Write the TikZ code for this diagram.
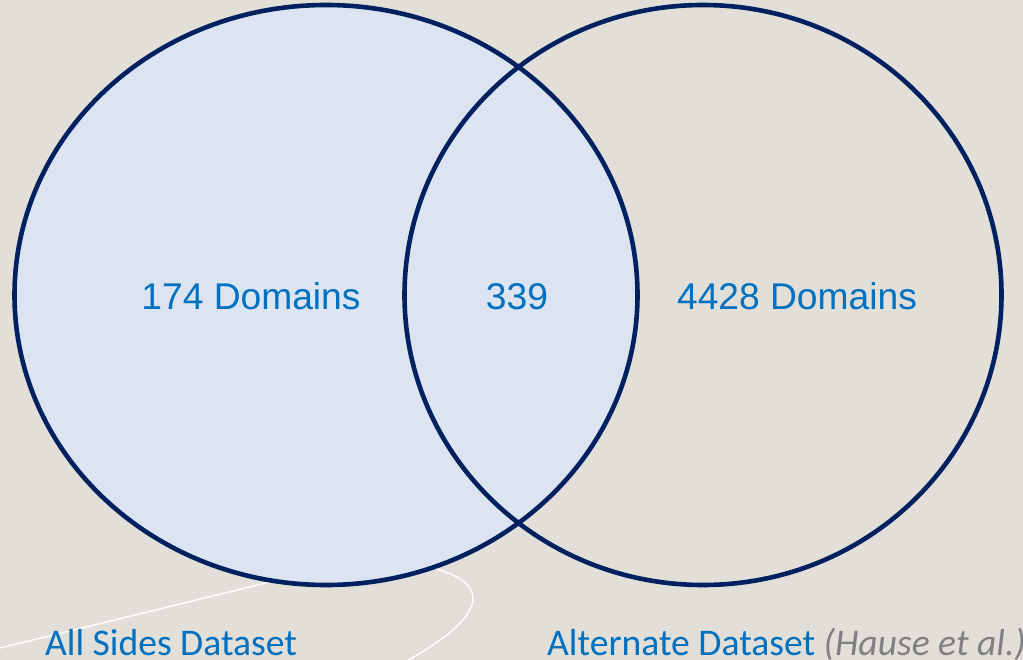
\documentclass[tikz,border=0pt]{standalone}
\usepackage{fontspec}
\setmainfont{Liberation Sans}
\newfontfamily\calibrifont{Carlito}
\usetikzlibrary{
    positioning,
    shapes.geometric
}
\usepackage{xcolor}
\definecolor{paper}{RGB}{226,223,216}
\definecolor{setfill}{RGB}{219,228,240}
\definecolor{navyline}{RGB}{0,32,96}
\definecolor{countblue}{RGB}{0,112,192}
\definecolor{citegray}{RGB}{128,128,128}

\begin{document}
\begin{tikzpicture}[
    x=1pt, y=-1pt,
    setshape/.style={
        ellipse, draw=navyline, line width=4.6pt,
        inner sep=0pt, minimum width=623pt, minimum height=580pt
    },
    count/.style={font=\fontsize{37.2}{40}\selectfont, text=countblue, anchor=base},
    setname/.style={font=\calibrifont\fontsize{37.6}{40}\selectfont, text=countblue, anchor=base west, inner sep=0pt}
]

% Background
\fill[paper] (0,0) rectangle (1023,660);
\useasboundingbox (0,0) rectangle (1023,660);

% Decorative white stroke
\draw[white, line width=1.4pt] (0,648) -- (270,582)
    .. controls (350,562) and (410,560) .. (440,570)
    .. controls (495,588) and (480,620) .. (405,662);

% The two sets
\node[setshape, fill=setfill] (allsides) at (326,295) {};
\node[setshape, minimum width=597pt] (alternate) at (703,295) {};

% Counts
\node[count] (onlyleft)  at (251,310) {174 Domains};
\node[count] (shared)    at (517,310) {339};
\node[count] (onlyright) at (797,310) {4428 Domains};

% Set names
\node[setname] (leftname)  at (45,655)  {All Sides Dataset};
\node[setname] (rightname) at (547,655) {Alternate Dataset \textcolor{citegray}{\itshape(Hause et al.)}};

\end{tikzpicture}
\end{document}
